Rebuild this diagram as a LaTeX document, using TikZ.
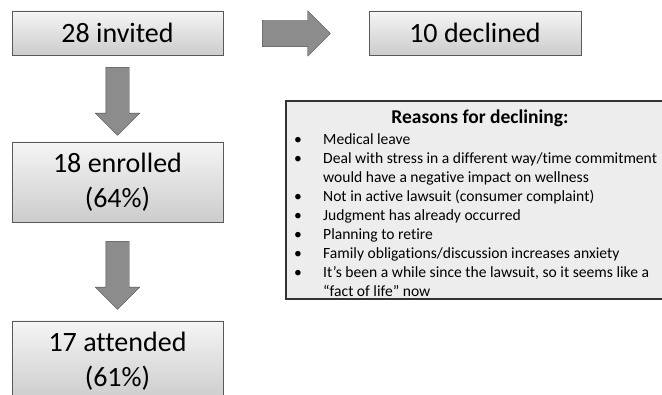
\documentclass[tikz,border=0pt]{standalone}
\usepackage{fontspec}
\setmainfont{Carlito}[Ligatures={NoCommon}]
\usetikzlibrary{shapes.arrows,calc}
\tikzset{
  stagebox/.style={rectangle,draw=black!65,top color=black!4,bottom color=black!20,
    minimum width=211pt,inner sep=0pt,align=center,font=\fontsize{28}{35}\selectfont},
  fatarrow/.style={single arrow,draw=black!70,fill=black!45,inner xsep=0pt,anchor=tail,
    single arrow head extend=10.5pt,minimum width=44pt,minimum height=68pt,inner ysep=11.5pt},
}

\begin{document}
\begin{tikzpicture}[x=1pt,y=-1pt]
\useasboundingbox (0,0) rectangle (662,395);
% flow boxes
\node (invited) [stagebox,minimum height=44pt] at (117.5,33) {28 invited};
\node (declined) [stagebox,minimum height=44pt,minimum width=212pt] at (475,33) {10 declined};
\node (enrolled) [stagebox,minimum height=80pt] at (117.5,182) {18 enrolled\\(64\%)};
\node (attended) [stagebox,minimum height=80pt] at (117.5,361) {17 attended\\(61\%)};
%
\node (toenrolled) [fatarrow,rotate=-90] at ($(invited.south)+(0,12)$) {};
\node (toattended) [fatarrow,rotate=-90] at ($(enrolled.south)+(0,19)$) {};
\node (todeclined) [fatarrow,inner ysep=13pt,single arrow head extend=9.5pt,minimum width=45pt]
  at ($(invited.east)+(39,0.5)$) {};
% reasons
\node (reasons) [rectangle,draw=black!80,line width=1.6pt,fill=black!7,
  minimum width=381pt,minimum height=198pt,inner sep=0pt] at (476.5,200) {};
\node (heading) [font=\fontsize{19.5}{22}\selectfont\bfseries] at (480,118) {Reasons for declining:};
\node (list) [anchor=north west,inner sep=0pt,font=\fontsize{15.6}{19}\selectfont] at (294,130.7) {%
  \begin{tabular}{@{}p{29pt}@{}l@{}}
  \textbullet & Medical leave\\
  \textbullet & Deal with stress in a different way/time commitment\\
   & would have a negative impact on wellness\\
  \textbullet & Not in active lawsuit (consumer complaint)\\
  \textbullet & Judgment has already occurred\\
  \textbullet & Planning to retire\\
  \textbullet & Family obligations/discussion increases anxiety\\
  \textbullet & It’s been a while since the lawsuit, so it seems like a\\
   & “fact of life” now
  \end{tabular}};
\end{tikzpicture}
\end{document}
